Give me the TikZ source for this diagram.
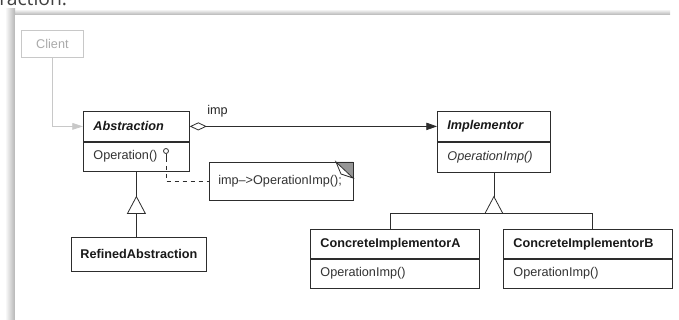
\documentclass[tikz,border=0pt]{standalone}
\usepackage{fontspec}
\setmainfont{Liberation Sans}
\newfontfamily\pagefont{Open Sans}
\usetikzlibrary{positioning,arrows.meta}
\definecolor{umlline}{RGB}{45,45,45}
\definecolor{ghost}{RGB}{200,200,200}
\definecolor{ghosttext}{RGB}{170,170,170}
\definecolor{earshade}{RGB}{150,150,150}
\definecolor{framegray}{RGB}{180,180,180}

\begin{document}
\begin{tikzpicture}[x=0.75pt,y=-0.75pt,font=\fontsize{9.5}{11}\selectfont,
  box/.style={draw=umlline,line width=0.6pt,inner sep=0pt,inner xsep=7.5pt,align=left},
  hd/.style={box,font=\fontsize{9.5}{11}\selectfont\bfseries,text=black!90,anchor=north west},
  ops/.style={box,text=black!80},
  link/.style={draw=umlline,line width=0.6pt},
  inhtri/.style={draw=umlline,line width=0.6pt,fill=white}]
  \useasboundingbox (0,0) rectangle (679,320);
  \clip (0,0) rectangle (679,320);
  % page frame with its shadow
  \shade[top color=white,bottom color=framegray] (5,9) rectangle (670,15);
  \shade[left color=white,right color=framegray] (5,9) rectangle (15,320);
  \fill[white] (15,15) rectangle (679,320);
  \node[font=\pagefont\fontsize{14.5}{16}\selectfont,text=black!75,anchor=base west,inner sep=0pt] (pagetext) at (-1,6) {raction.};
  % client (greyed out)
  \node[draw=ghost,line width=0.6pt,text=ghosttext,minimum width=46.5pt,minimum height=20.25pt,inner sep=0pt,anchor=north west] (client) at (21,30) {Client};
  % abstraction side
  \node[hd,text width=64.5pt,minimum height=22.5pt] (abshd) at (83,111) {\itshape Abstraction};
  \node[ops,text width=64.5pt,minimum height=21.75pt,below=0pt of abshd] (absops) {Operation()};
  \node[box,font=\fontsize{9.5}{11}\selectfont\bfseries,text=black!90,align=center,minimum width=101.25pt,minimum height=25.5pt,inner xsep=0pt,anchor=north west] (refined) at (71,237) {RefinedAbstraction};
  % implementor side
  \node[hd,text width=69.75pt,minimum height=22.5pt] (imphd) at (437,111) {\itshape Implementor};
  \node[ops,text width=69.75pt,minimum height=22.5pt,below=0pt of imphd] (impops) {\itshape OperationImp()};
  \node[hd,text width=111.75pt,minimum height=21.75pt] (ciahd) at (310,229) {ConcreteImplementorA};
  \node[ops,text width=111.75pt,minimum height=21.75pt,below=0pt of ciahd] (ciaops) {OperationImp()};
  \node[hd,text width=111.75pt,minimum height=21.75pt] (cibhd) at (503,229) {ConcreteImplementorB};
  \node[ops,text width=111.75pt,minimum height=21.75pt,below=0pt of cibhd] (cibops) {OperationImp()};
  % note with dog ear
  \node[draw=umlline,line width=0.6pt,minimum width=108pt,minimum height=28.5pt,inner sep=0pt,anchor=north west] (note) at (209,162) {};
  \node[anchor=west,inner sep=0pt,text=black!80] (notetext) at (218,181) {imp\textendash>OperationImp();};
  \fill[earshade] (336,162) -- (353,162) -- (353,178) -- cycle;
  \draw[link,fill=white] (336,162) -- (341,174) -- (353,178) -- cycle;
  \draw[link] (note.north west) rectangle (note.south east);
  % client uses abstraction
  \draw[ghost,line width=0.6pt,-{Triangle[length=8pt,width=5pt]}] (client.south) |- (abshd.west);
  % bridge: abstraction holds imp
  \draw[link,{Diamond[open,length=12.75pt,width=6pt]}-{Triangle[length=8pt,width=5.5pt]}] (abshd.east) -- (imphd.west);
  \node[anchor=base west,inner sep=0pt,text=black!85] (implbl) at (207,115) {imp};
  % operation -> note
  \node[circle,draw=umlline,line width=0.6pt,inner sep=0pt,minimum size=3.75pt] (pin) at (166,151) {};
  \coordinate (pinfoot) at (166,158);
  \draw[link] (pin.south) -- (pinfoot);
  \draw[link,dashed] (pinfoot) |- (note.west);
  % inheritance: refined abstraction
  \path (absops.south) ++(0,25) coordinate (triA) ++(0,17) coordinate (triAbase);
  \draw[link] (absops.south) -- (triA);
  \draw[link] (triAbase) -- (triAbase |- refined.north);
  \draw[inhtri] (triA) -- ++(-9,17) -- ++(18,0) -- cycle;
  % inheritance: concrete implementors
  \path (impops.south) ++(0,24) coordinate (triI) ++(0,17) coordinate (triIbase);
  \draw[link] (impops.south) -- (triI);
  \draw[link] ([xshift=-3.4pt]ciahd.north) |- (triIbase) -| ([xshift=3.4pt]cibhd.north);
  \draw[inhtri] (triI) -- ++(-9,17) -- ++(18,0) -- cycle;
\end{tikzpicture}
\end{document}
